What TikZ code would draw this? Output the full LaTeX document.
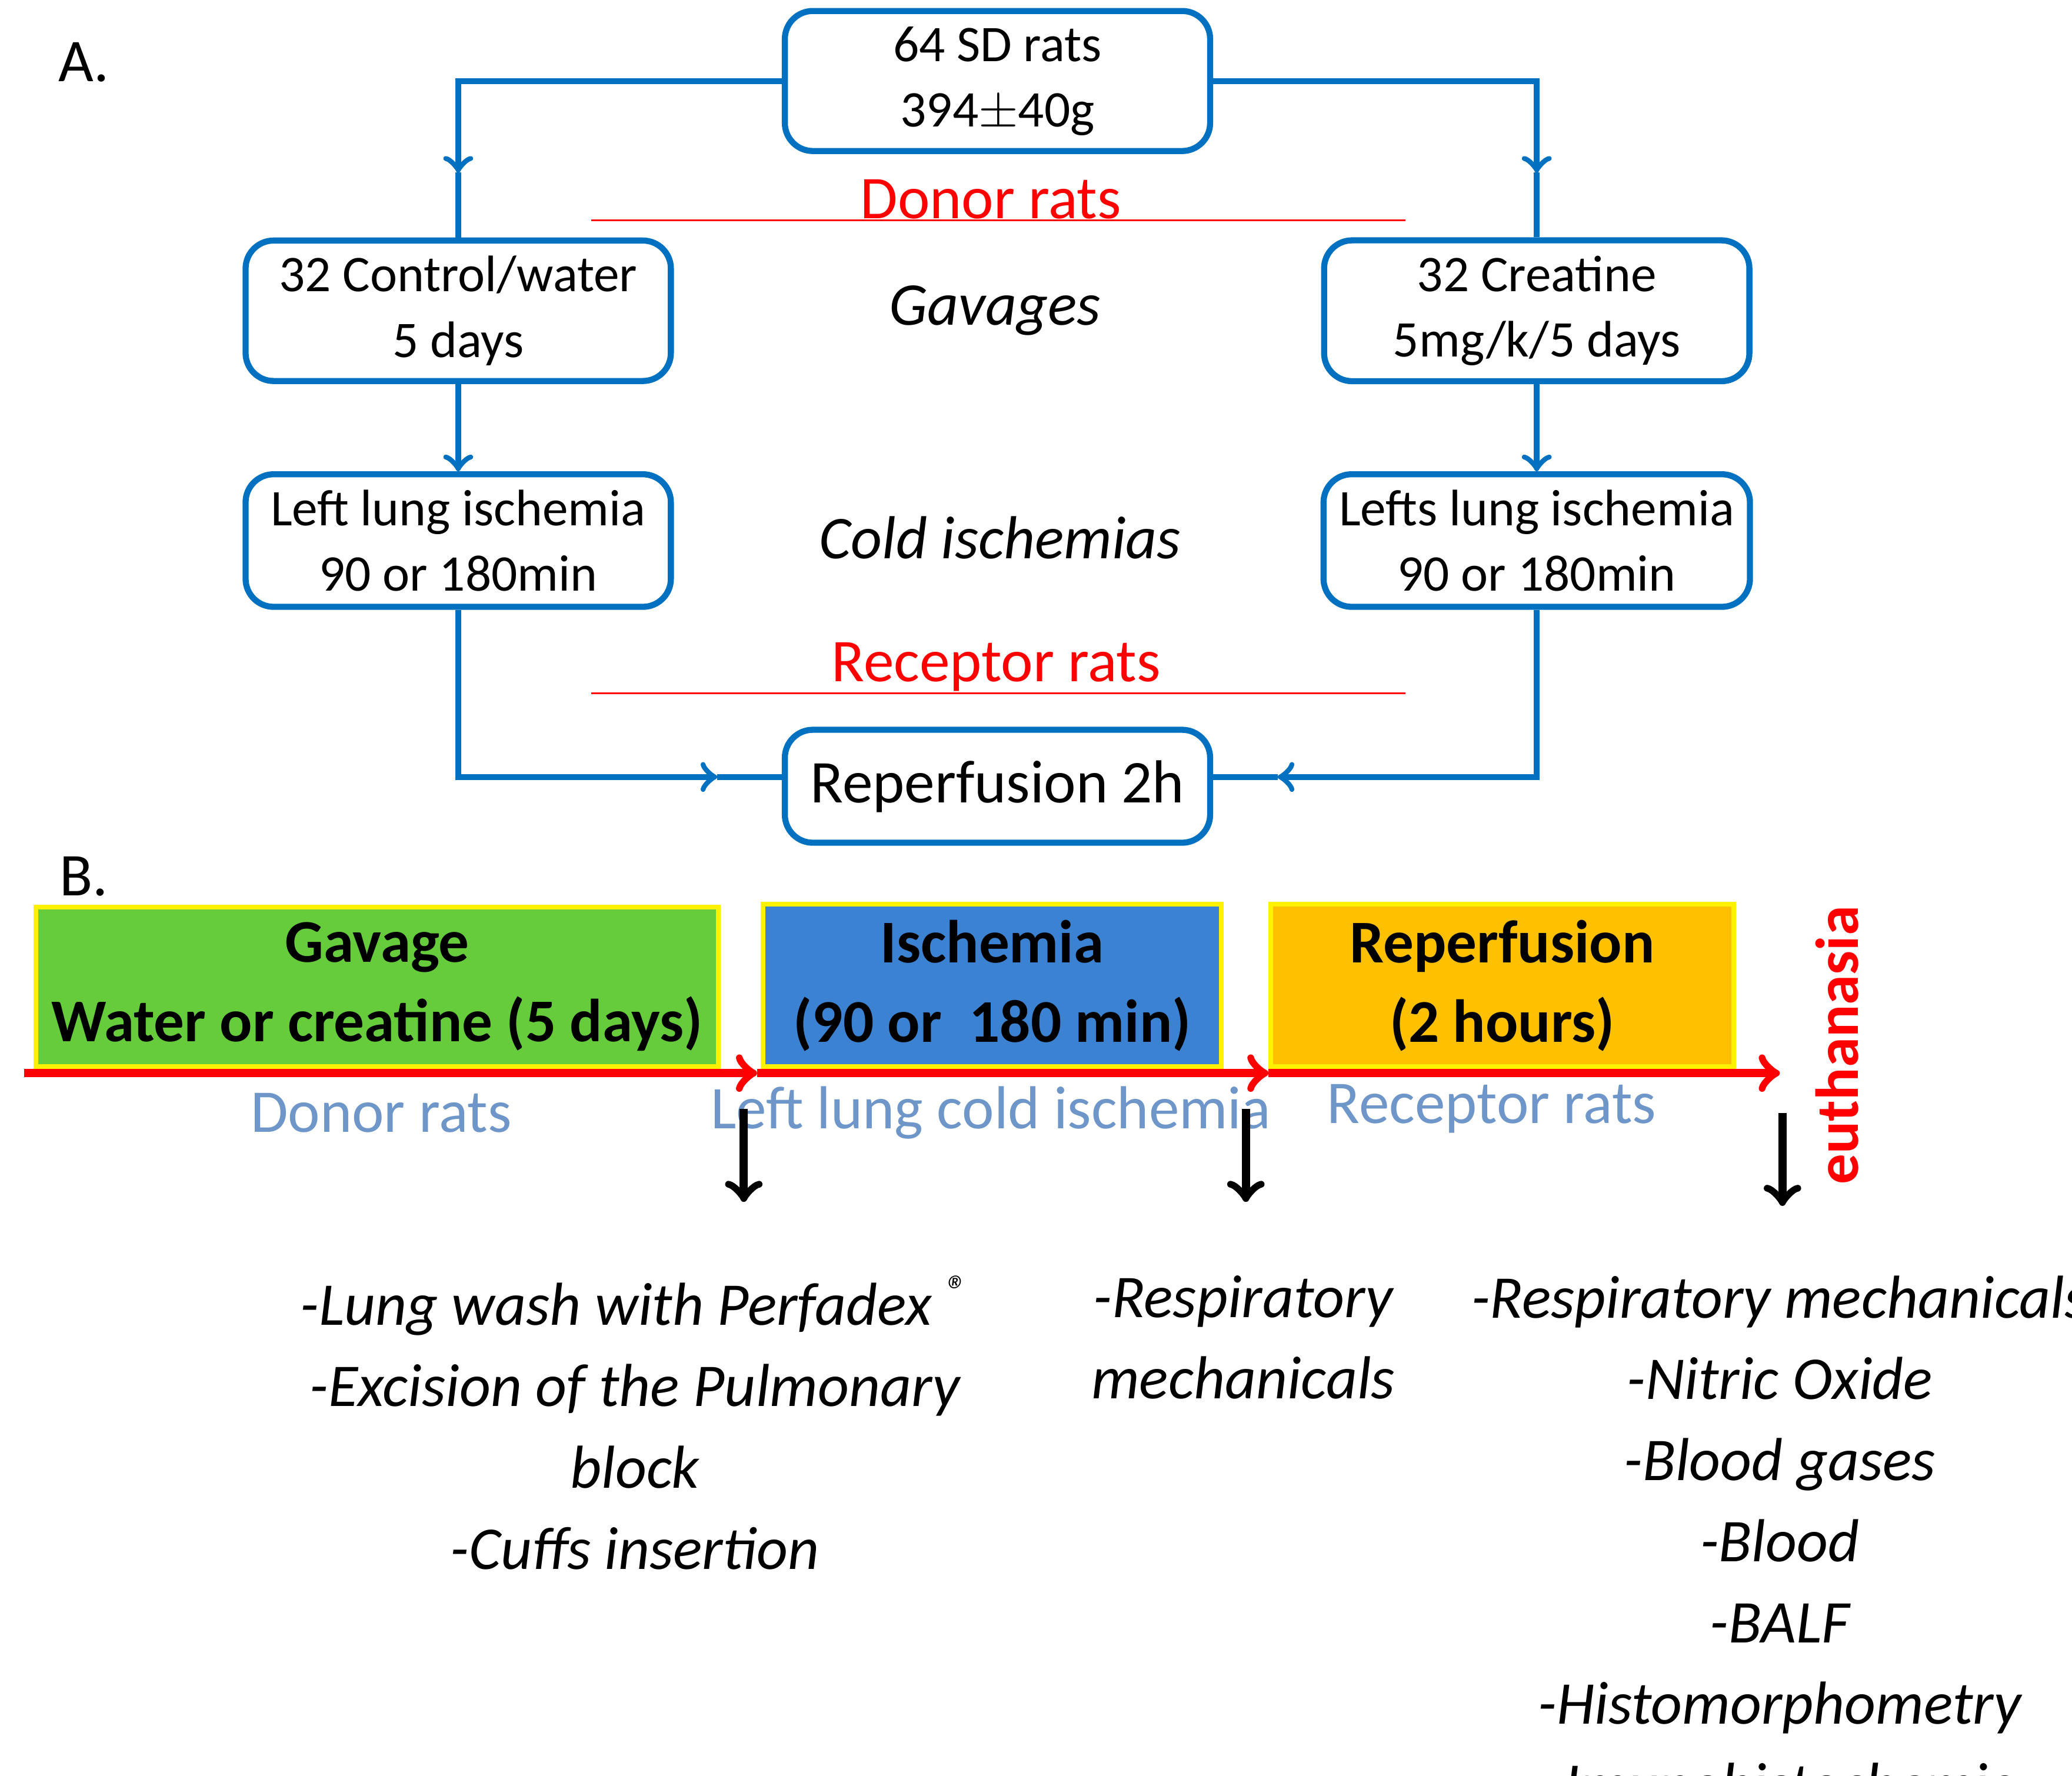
\documentclass[tikz,border=0pt]{standalone}
\usepackage{fontspec}
\setmainfont{Carlito}
\usetikzlibrary{positioning,calc}
\definecolor{flowblue}{RGB}{0,112,192}
\definecolor{labblue}{RGB}{110,150,200}
\definecolor{gavgreen}{RGB}{102,204,60}
\definecolor{iscblue}{RGB}{60,130,210}
\definecolor{repor}{RGB}{255,192,0}
\begin{document}
\begin{tikzpicture}[x=0.01cm,y=-0.01cm,
  every node/.style={align=center},
  box/.style={rectangle, draw=flowblue, line width=1.3pt, rounded corners=6pt, minimum width=3.2cm, minimum height=0.85cm, font=\fontsize{11}{14}\selectfont},
  flow/.style={flowblue, line width=1.3pt},
  phase/.style={rectangle, draw=yellow, line width=1pt, minimum height=1.02cm, font=\bfseries\fontsize{13}{17}\selectfont},
  measure/.style={font=\itshape\fontsize{13}{17.4}\selectfont}]

\useasboundingbox (0,0) rectangle (1560,1337);

% Part A
\node[font=\fontsize{13}{15}\selectfont] (labA) at (63,47) {A.};
\node[box] (rats) at (751,61) {64 SD rats\\394$\pm$40g};
\node[box] (ctrl) at (345,234) {32 Control/water\\5 days};
\node[box] (crea) at (1157,234) {32 Creatine\\5mg/k/5 days};
\node[box] (lisc) at (345,407) {Left lung ischemia\\90 or 180min};
\node[box] (risc) at (1157,407) {Lefts lung ischemia\\90 or 180min};
\node[box, font=\fontsize{13}{15}\selectfont] (reperf) at (751,592) {Reperfusion 2h};

\node[red, font=\fontsize{13}{15}\selectfont] (donor) at (746,150) {Donor rats};
\node[font=\itshape\fontsize{13}{15}\selectfont] (gav) at (749,234) {Gavages};
\node[font=\itshape\fontsize{13}{15}\selectfont] (cold) at (753,405) {Cold ischemias};
\node[red, font=\fontsize{13}{15}\selectfont] (recep) at (750,502) {Receptor rats};
\draw[red] (445,166) -- (1058,166);
\draw[red] (445,522) -- (1058,522);

% Arrows
\coordinate (tl) at (345,130);
\coordinate (tr) at (1157,130);
\coordinate (bl) at (540,585);
\coordinate (br) at (962,585);
\draw[flow, ->] (rats.west) -| (tl);
\draw[flow] (tl) -- (ctrl.north);
\draw[flow, ->] (rats.east) -| (tr);
\draw[flow] (tr) -- (crea.north);
\draw[flow, ->] (ctrl) -- (lisc);
\draw[flow, ->] (crea) -- (risc);
\draw[flow, ->] (lisc.south) |- (bl);
\draw[flow] (bl) -- (reperf.west |- bl);
\draw[flow, ->] (risc.south) |- (br);
\draw[flow] (br) -- (reperf.east |- br);

% Part B
\node[font=\fontsize{13}{15}\selectfont] (labB) at (63,660) {B.};
\node[phase, fill=gavgreen, minimum width=5.02cm] (gavage) at (284,743) {Gavage\\Water or creatine (5 days)};
\node[phase, fill=iscblue, minimum width=3.45cm] (isch) at (747,742) {Ischemia\\(90 or\ \ 180 min)};
\node[phase, fill=repor, minimum width=3.48cm] (rep) at (1131,742) {Reperfusion\\(2 hours)};

\coordinate (t0) at (18,808);
\coordinate (t1) at (570,808);
\coordinate (t2) at (955,808);
\coordinate (t3) at (1340,808);
\draw[red, line width=1.8pt, ->] (t0) -- (t1);
\draw[red, line width=1.8pt, ->] (t1) -- (t2);
\draw[red, line width=1.8pt, ->] (t2) -- (t3);

\node[labblue, font=\fontsize{13}{15}\selectfont] (ldon) at (287,838) {Donor rats};
\node[labblue, font=\fontsize{13}{15}\selectfont] (llung) at (746,838) {Left lung cold ischemia};
\node[labblue, font=\fontsize{13}{15}\selectfont] (lrec) at (1123,835) {Receptor rats};
\node[red, rotate=90, font=\bfseries\fontsize{13}{15}\selectfont] (euth) at (1383,787) {euthanasia};

\coordinate (a1) at (560,835);
\coordinate (a2) at (938,835);
\coordinate (a3) at (1342,838);
\draw[line width=1.8pt, ->] (a1) -- ++(0,70);
\draw[line width=1.8pt, ->] (a2) -- ++(0,70);
\draw[line width=1.8pt, ->] (a3) -- ++(0,70);

\node[measure, anchor=north] (donlist) at (478,948) {-Lung wash with Perfadex \textsuperscript{\textregistered}\\-Excision of the Pulmonary\\block\\-Cuffs insertion};
\node[measure, anchor=north] (isclist) at (936,948) {-Respiratory\\mechanicals};
\node[measure, anchor=north] (replist) at (1340,948) {-Respiratory mechanicals\\-Nitric Oxide\\-Blood gases\\-Blood\\-BALF\\-Histomorphometry\\-Imunohistochemic\\-ELISA};
\end{tikzpicture}
\end{document}
